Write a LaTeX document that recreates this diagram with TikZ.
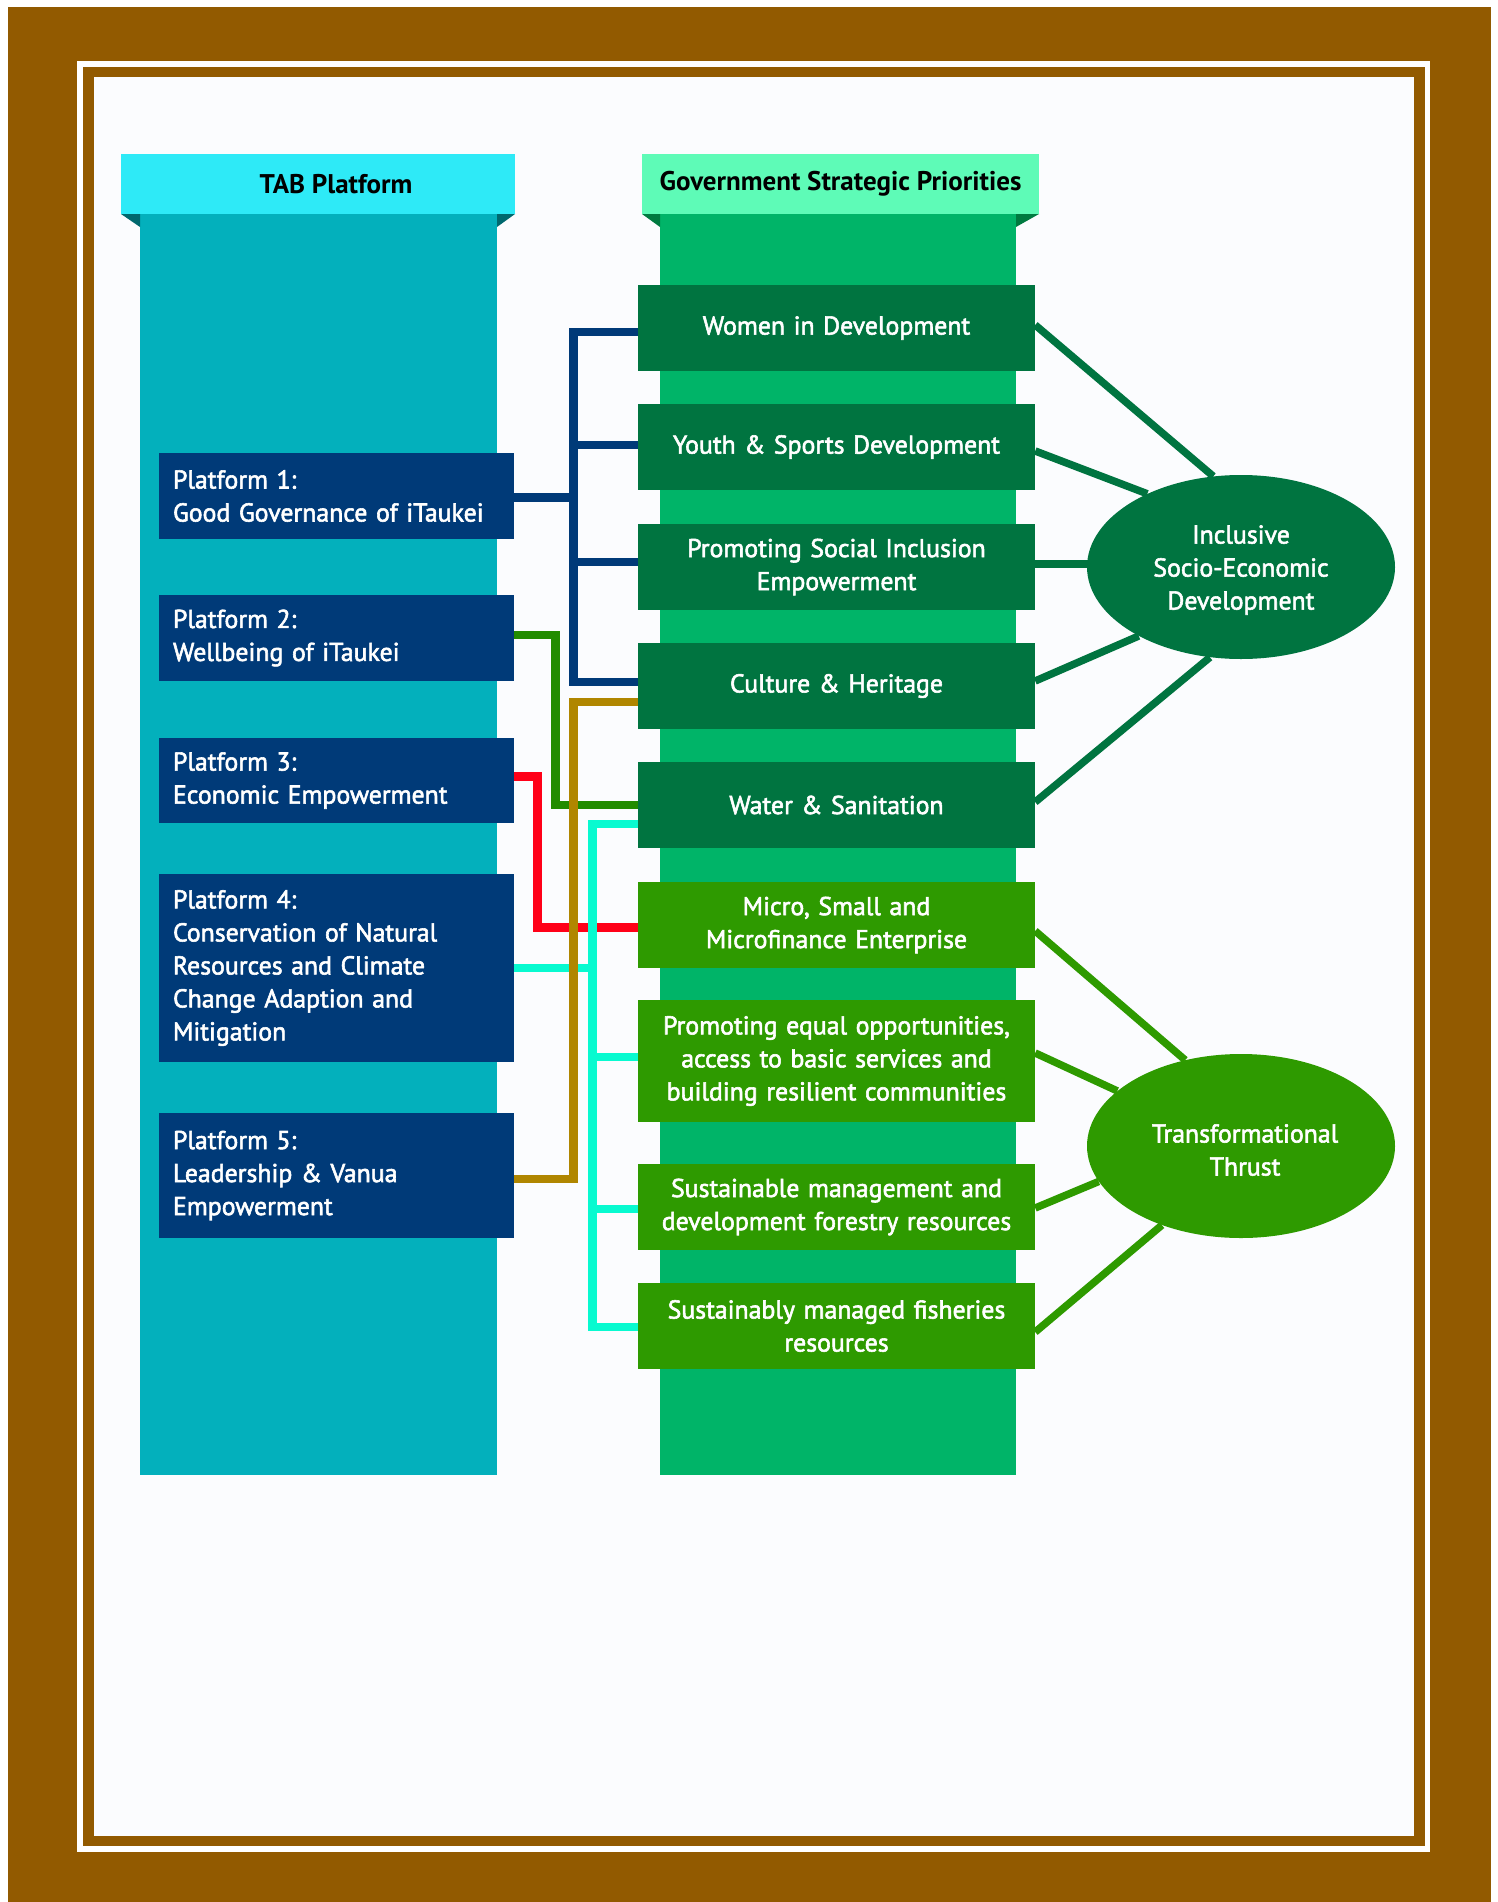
\documentclass[tikz,border=0pt]{standalone}
\usepackage{fontspec}
\setmainfont{PT Sans}
\newfontfamily\boxfont{PT Sans}[FakeBold=2.2]
\usetikzlibrary{shapes.geometric}
\definecolor{brownc}{RGB}{146,90,0}
\definecolor{paper}{RGB}{251,252,254}
\definecolor{tabhead}{RGB}{46,234,247}
\definecolor{tabcol}{RGB}{3,176,188}
\definecolor{tabshadow}{RGB}{0,104,110}
\definecolor{govhead}{RGB}{94,251,183}
\definecolor{govcol}{RGB}{0,180,104}
\definecolor{govshadow}{RGB}{0,122,64}
\definecolor{navy}{RGB}{0,58,120}
\definecolor{dkgreen}{RGB}{0,116,64}
\definecolor{ltgreen}{RGB}{46,154,0}
\definecolor{lngreen}{RGB}{34,140,0}
\definecolor{lngold}{RGB}{176,134,0}
\definecolor{lnred}{RGB}{255,0,24}
\definecolor{lnaqua}{RGB}{8,250,208}
\tikzset{
  txt/.style={font=\boxfont\fontsize{25.8}{33}\selectfont},
  hdr/.style={font=\fontsize{27}{33}\selectfont\bfseries, text=black, minimum height=60, inner sep=0},
  plat/.style={txt, fill=navy, text=white, minimum width=355, text width=327, inner xsep=14, inner ysep=0, align=left},
  prio/.style={txt, text=white, minimum width=397, text width=380, inner xsep=8.5, inner ysep=0, align=center},
  darkprio/.style={prio, fill=dkgreen},
  lightprio/.style={prio, fill=ltgreen},
  goal/.style={ellipse, minimum width=308, minimum height=184, inner sep=0},
  goaltext/.style={txt, text=white, align=center, inner sep=0},
  conn/.style={line width=8.5, line join=miter, line cap=butt},
  rline/.style={line width=7.5, line cap=butt}
}
\begin{document}
\begin{tikzpicture}[x=1pt,y=-1pt]
\useasboundingbox (0,0) rectangle (1497,1902);
% frame
\fill[white] (0,0) rectangle (1497,1902);
\fill[brownc] (7.7,7) rectangle (1491,1902);
\fill[white] (77,61) rectangle (1430,1852);
\fill[brownc] (83,67) rectangle (1425,1846);
\fill[paper] (94,77) rectangle (1414,1836);
% columns
\fill[tabcol] (140,214) rectangle (497,1475);
\fill[tabshadow] (121,214) -- (140,214) -- (140,227) -- cycle;
\fill[tabshadow] (497,214) -- (515,214) -- (497,227) -- cycle;
\node[hdr, fill=tabhead, minimum width=394] (tabh) at (318,184) {\hspace*{36pt}TAB Platform};
\fill[govcol] (660,214) rectangle (1016,1475);
\fill[govshadow] (642,214) -- (660,214) -- (660,227) -- cycle;
\fill[govshadow] (1016,214) -- (1039,214) -- (1016,227) -- cycle;
\node[hdr, fill=govhead, minimum width=397] (govh) at (840.5,184) {Government Strategic Priorities};
% platform boxes
\node[plat, minimum height=86] (p1) at (336.5,496) {Platform 1:\\Good Governance of iTaukei};
\node[plat, minimum height=86] (p2) at (336.5,638) {Platform 2:\\Wellbeing of iTaukei};
\node[plat, minimum height=85] (p3) at (336.5,780.5) {Platform 3:\\Economic Empowerment};
\node[plat, minimum height=188] (p4) at (336.5,968) {Platform 4:\\Conservation of Natural\\Resources and Climate\\Change Adaption and\\Mitigation};
\node[plat, minimum height=125] (p5) at (336.5,1175.5) {Platform 5:\\Leadership \& Vanua\\Empowerment};
% priority boxes
\node[darkprio, minimum height=86] (women) at (836.5,328) {Women in Development};
\node[darkprio, minimum height=86] (youth) at (836.5,447) {Youth \& Sports Development};
\node[darkprio, minimum height=86] (social) at (836.5,567) {Promoting Social Inclusion\\Empowerment};
\node[darkprio, minimum height=86] (culture) at (836.5,686) {Culture \& Heritage};
\node[darkprio, minimum height=86] (water) at (836.5,805) {Water \& Sanitation};
\node[lightprio, minimum height=86] (micro) at (836.5,925) {Micro, Small and\\Microfinance Enterprise};
\node[lightprio, minimum height=122] (equal) at (836.5,1061) {Promoting equal opportunities,\\access to basic services and\\building resilient communities};
\node[lightprio, minimum height=86] (forest) at (836.5,1207) {Sustainable management and\\development forestry resources};
\node[lightprio, minimum height=86] (fish) at (836.5,1326) {Sustainably managed fisheries\\resources};
% bus coordinates
\coordinate (redbus) at (537.5,0);
\coordinate (grnbus) at (555.5,0);
\coordinate (navbus) at (573.5,0);
\coordinate (aqbus) at (592.5,0);
% red
\coordinate (rP) at ([yshift=4pt]p3.east);
\coordinate (rM) at ([yshift=-2.5pt]micro.west);
\draw[conn, lnred] (rP) -| (redbus |- rM) -- (rM);
% aqua
\coordinate (aW) at ([yshift=-19pt]water.west);
\coordinate (aE) at ([yshift=4pt]equal.west);
\coordinate (aF) at ([yshift=-2pt]forest.west);
\coordinate (aS) at ([yshift=-1pt]fish.west);
\draw[conn, lnaqua] (aW) -| (aqbus |- aS) -- (aS);
\draw[conn, lnaqua] (p4.east) -- (p4.east -| aqbus);
\draw[conn, lnaqua] (aE) -- (aE -| aqbus);
\draw[conn, lnaqua] (aF) -- (aF -| aqbus);
% green
\coordinate (gP) at ([yshift=3pt]p2.east);
\draw[conn, lngreen] (gP) -| (grnbus |- water.west) -- (water.west);
% navy
\coordinate (nP) at ([yshift=-1.5pt]p1.east);
\coordinate (nW) at ([yshift=-4pt]women.west);
\coordinate (nY) at ([yshift=2pt]youth.west);
\coordinate (nS) at ([yshift=5pt]social.west);
\coordinate (nC) at ([yshift=4pt]culture.west);
\draw[conn, navy] (nW) -| (navbus |- nC) -- (nC);
\draw[conn, navy] (nY) -- (nY -| navbus);
\draw[conn, navy] (nS) -- (nS -| navbus);
\draw[conn, navy] (nP) -- (nP -| navbus);
% gold
\coordinate (oP) at ([yshift=-3.5pt]p5.east);
\coordinate (oC) at ([yshift=-16pt]culture.west);
\draw[conn, lngold] (oP) -| (navbus |- oC) -- (oC);
% goals
\node[goal] (inclusive) at (1241,567) {};
\node[goal] (transform) at (1241,1146) {};
\coordinate (sE) at ([yshift=3pt]social.east);
\draw[rline, dkgreen] ([yshift=3pt]women.east) -- (inclusive.107);
\draw[rline, dkgreen] ([yshift=-4pt]youth.east) -- (inclusive.142);
\draw[rline, dkgreen] (sE) -- ([xshift=20pt]sE -| inclusive.west);
\draw[rline, dkgreen] ([yshift=5pt]culture.east) -- (inclusive.214);
\draw[rline, dkgreen] ([yshift=3pt]water.east) -- (inclusive.251);
\draw[rline, ltgreen] ([yshift=-6pt]micro.east) -- (transform.123);
\draw[rline, ltgreen] ([yshift=8pt]equal.east) -- (transform.156);
\draw[rline, ltgreen] ([yshift=-1pt]forest.east) -- (transform.194);
\draw[rline, ltgreen] ([yshift=-6pt]fish.east) -- (transform.225);
\fill[dkgreen] (inclusive.center) ellipse [x radius=154, y radius=92];
\fill[ltgreen] (transform.center) ellipse [x radius=154, y radius=92];
\node[goaltext] (inctext) at ([yshift=-3pt]inclusive.center) {Inclusive\\Socio-Economic\\Development};
\node[goaltext] (trtext) at ([xshift=4pt, yshift=-4pt]transform.center) {Transformational\\Thrust};
\end{tikzpicture}
\end{document}
